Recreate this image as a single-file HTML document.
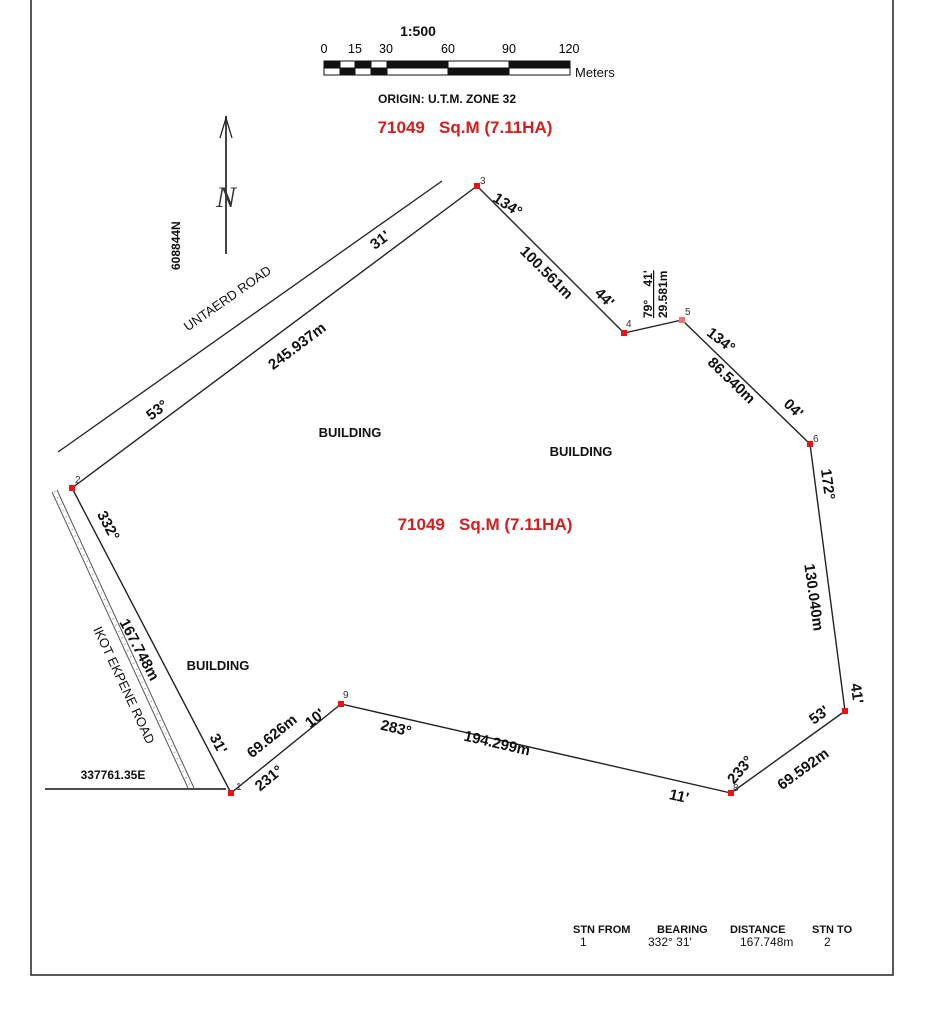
<!DOCTYPE html>
<html><head><meta charset="utf-8"><style>
html,body{margin:0;padding:0;background:#fff;}
svg{display:block;}
text{font-family:"Liberation Sans",Arial,sans-serif;}
.b{font-weight:bold;font-size:15px;fill:#111;}
.n{font-size:13px;fill:#111;}
.s{font-size:10px;fill:#333;}
.r{font-weight:bold;font-size:17px;fill:#d81b1b;}
</style></head><body>
<svg width="926" height="1024" viewBox="0 0 926 1024" xmlns="http://www.w3.org/2000/svg">
<rect width="926" height="1024" fill="#fff"/>
<polyline points="31,0 31,975 893,975 893,0" fill="none" stroke="#222" stroke-width="1.5"/>

<text x="418" y="36" class="b" text-anchor="middle" style="font-size:14px">1:500</text>
<text x="324" y="53" text-anchor="middle" style="font-size:12.5px">0</text>
<text x="355" y="53" text-anchor="middle" style="font-size:12.5px">15</text>
<text x="386" y="53" text-anchor="middle" style="font-size:12.5px">30</text>
<text x="448" y="53" text-anchor="middle" style="font-size:12.5px">60</text>
<text x="509" y="53" text-anchor="middle" style="font-size:12.5px">90</text>
<text x="569" y="53" text-anchor="middle" style="font-size:12.5px">120</text>
<g stroke="#111" stroke-width="1">
<rect x="324" y="61" width="246" height="14" fill="#fff"/>
<rect x="324" y="61" width="16" height="7" fill="#111"/>
<rect x="340" y="68" width="15" height="7" fill="#111"/>
<rect x="355" y="61" width="16" height="7" fill="#111"/>
<rect x="371" y="68" width="16" height="7" fill="#111"/>
<rect x="387" y="61" width="61" height="7" fill="#111"/>
<rect x="448" y="68" width="61" height="7" fill="#111"/>
<rect x="509" y="61" width="61" height="7" fill="#111"/>
</g>
<text x="575" y="77" style="font-size:13px" fill="#111">Meters</text>
<text x="447" y="103" class="b" text-anchor="middle" style="font-size:12px">ORIGIN: U.T.M. ZONE 32</text>
<text x="465" y="133" class="r" text-anchor="middle">71049&#160;&#160; Sq.M (7.11HA)</text>

<line x1="226" y1="116" x2="226" y2="254" stroke="#444" stroke-width="2"/>
<path d="M220,138 L226,118 L232,138" fill="none" stroke="#222" stroke-width="1.3"/>
<text x="226" y="207" text-anchor="middle" style="font-family:'Liberation Serif',serif;font-style:italic;font-size:30px" fill="#333">N</text>
<text transform="translate(180,270) rotate(-90)" class="b" style="font-size:12px">608844N</text>

<line x1="58" y1="452" x2="442" y2="181" stroke="#222" stroke-width="1.3"/>
<text transform="translate(230,302) rotate(-35)" class="n" text-anchor="middle" style="font-size:13px">UNTAERD ROAD</text>
<line x1="52" y1="492" x2="188" y2="788" stroke="#555" stroke-width="1"/>
<line x1="57" y1="490" x2="194" y2="788" stroke="#555" stroke-width="1"/>
<line x1="54.5" y1="491" x2="191" y2="788" stroke="#aaa" stroke-width="2" stroke-dasharray="1,6"/>
<text transform="translate(120,687) rotate(65)" class="n" text-anchor="middle" style="font-size:13px">IKOT EKPENE ROAD</text>
<line x1="45" y1="789" x2="226" y2="789" stroke="#111" stroke-width="1.5"/>
<text x="113" y="779" class="b" text-anchor="middle" style="font-size:12px">337761.35E</text>

<polyline points="231,793 72,488 477,186 624,333 682,320 810,444 845,711 731,793 341,704 231,793" fill="none" stroke="#222" stroke-width="1.4"/>
<g fill="#e11">
<rect x="228" y="790" width="6" height="6"/>
<rect x="69" y="485" width="6" height="6"/>
<rect x="474" y="183" width="6" height="6"/>
<rect x="621" y="330" width="6" height="6"/>
<rect x="679" y="317" width="6" height="6" fill="#f07070"/>
<rect x="807" y="441" width="6" height="6"/>
<rect x="842" y="708" width="6" height="6"/>
<rect x="728" y="790" width="6" height="6"/>
<rect x="338" y="701" width="6" height="6"/>
</g>
<text x="236" y="790" class="s">1</text>
<text x="75" y="483" class="s">2</text>
<text x="480" y="184" class="s">3</text>
<text x="626" y="327" class="s">4</text>
<text x="685" y="315" class="s">5</text>
<text x="813" y="442" class="s">6</text>
<text x="733" y="791" class="s">8</text>
<text x="343" y="698" class="s">9</text>

<g class="b">
<text transform="translate(383,244) rotate(-37)" text-anchor="middle">31'</text>
<text transform="translate(300,350) rotate(-37)" text-anchor="middle">245.937m</text>
<text transform="translate(160,414) rotate(-37)" text-anchor="middle">53°</text>

<text transform="translate(505,209) rotate(33)" text-anchor="middle">134°</text>
<text transform="translate(543,276) rotate(45)" text-anchor="middle">100.561m</text>
<text transform="translate(601,301) rotate(45)" text-anchor="middle">44'</text>

<text transform="translate(652,318) rotate(-90)" style="font-size:12px;text-decoration:underline">79°_&#160; 41'</text>
<text transform="translate(667,318) rotate(-90)" style="font-size:12px">29.581m</text>

<text transform="translate(718,344) rotate(38)" text-anchor="middle">134°</text>
<text transform="translate(728,384) rotate(44)" text-anchor="middle">86.540m</text>
<text transform="translate(790,412) rotate(44)" text-anchor="middle">04'</text>

<text transform="translate(823,485) rotate(82)" text-anchor="middle">172°</text>
<text transform="translate(809,598) rotate(82)" text-anchor="middle">130.040m</text>
<text transform="translate(852,694) rotate(82)" text-anchor="middle">41'</text>

<text transform="translate(822,719) rotate(-36)" text-anchor="middle">53'</text>
<text transform="translate(806,773) rotate(-36)" text-anchor="middle">69.592m</text>
<text transform="translate(744,773) rotate(-50)" text-anchor="middle">233°</text>

<text transform="translate(678,801) rotate(13)" text-anchor="middle">11'</text>
<text transform="translate(496,748) rotate(13)" text-anchor="middle">194.299m</text>
<text transform="translate(395,733) rotate(13)" text-anchor="middle">283°</text>

<text transform="translate(318,722) rotate(-39)" text-anchor="middle">10'</text>
<text transform="translate(275,740) rotate(-39)" text-anchor="middle">69.626m</text>
<text transform="translate(272,782) rotate(-39)" text-anchor="middle">231°</text>

<text transform="translate(104,528) rotate(62)" text-anchor="middle">332°</text>
<text transform="translate(135,652) rotate(62)" text-anchor="middle">167.748m</text>
<text transform="translate(214,746) rotate(62)" text-anchor="middle">31'</text>
</g>

<text x="350" y="437" class="b" text-anchor="middle" style="font-size:13px">BUILDING</text>
<text x="581" y="456" class="b" text-anchor="middle" style="font-size:13px">BUILDING</text>
<text x="218" y="670" class="b" text-anchor="middle" style="font-size:13px">BUILDING</text>
<text x="485" y="530" class="r" text-anchor="middle">71049&#160;&#160; Sq.M (7.11HA)</text>

<g fill="#111">
<text x="573" y="933" font-weight="bold" style="font-size:11px">STN FROM</text>
<text x="657" y="933" font-weight="bold" style="font-size:11px">BEARING</text>
<text x="730" y="933" font-weight="bold" style="font-size:11px">DISTANCE</text>
<text x="812" y="933" font-weight="bold" style="font-size:11px">STN TO</text>
<text x="580" y="946" style="font-size:12px">1</text>
<text x="648" y="946" style="font-size:12px">332° 31'</text>
<text x="740" y="946" style="font-size:12px">167.748m</text>
<text x="824" y="946" style="font-size:12px">2</text>
</g>
</svg>
</body></html>
